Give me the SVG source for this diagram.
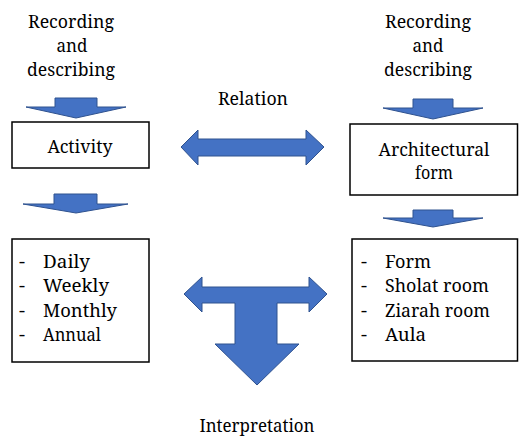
<svg xmlns="http://www.w3.org/2000/svg" width="519" height="438" viewBox="0 0 519 438">
<style>
  text { font-family: "Noto Serif", "DejaVu Serif", serif; font-size: 18.5px; fill: #000; }
  .c { text-anchor: middle; }
  .s { font-size: 17.5px; }
  .box { fill: #fff; stroke: #000; stroke-width: 1.5; }
  .arr { fill: #4472C4; stroke: #2F528F; stroke-width: 1; stroke-linejoin: miter; }
</style>
<rect width="519" height="438" fill="#fff"/>
<g id="label-left-recording">
  <text class="c" x="71" y="28" textLength="86" lengthAdjust="spacingAndGlyphs">Recording</text>
  <text class="c" x="72" y="52" textLength="31" lengthAdjust="spacingAndGlyphs">and</text>
  <text class="c" x="71" y="76" textLength="88" lengthAdjust="spacingAndGlyphs">describing</text>
</g>
<g id="label-right-recording">
  <text class="c" x="428" y="28" textLength="86" lengthAdjust="spacingAndGlyphs">Recording</text>
  <text class="c" x="428" y="52" textLength="31" lengthAdjust="spacingAndGlyphs">and</text>
  <text class="c" x="428" y="76" textLength="88" lengthAdjust="spacingAndGlyphs">describing</text>
</g>
<g id="label-relation">
  <text class="c" x="253" y="105" textLength="70" lengthAdjust="spacingAndGlyphs">Relation</text>
</g>
<g id="node-activity">
  <rect class="box" x="12" y="122" width="137" height="46"/>
  <text class="c" x="80" y="153" textLength="65" lengthAdjust="spacingAndGlyphs">Activity</text>
</g>
<g id="node-architectural-form">
  <rect class="box" x="350" y="124" width="167.5" height="71"/>
  <text class="c s" x="434" y="156" textLength="111" lengthAdjust="spacingAndGlyphs">Architectural</text>
  <text class="c s" x="434" y="179" textLength="38" lengthAdjust="spacingAndGlyphs">form</text>
</g>
<g id="node-activity-list">
  <rect class="box" x="12" y="239" width="137" height="123"/>
  <text x="19" y="268" textLength="6" lengthAdjust="spacingAndGlyphs">-</text><text x="43" y="268" textLength="47" lengthAdjust="spacingAndGlyphs">Daily</text>
  <text x="19" y="292" textLength="6" lengthAdjust="spacingAndGlyphs">-</text><text x="43" y="292" textLength="66" lengthAdjust="spacingAndGlyphs">Weekly</text>
  <text x="19" y="317" textLength="6" lengthAdjust="spacingAndGlyphs">-</text><text x="43" y="317" textLength="74" lengthAdjust="spacingAndGlyphs">Monthly</text>
  <text x="19" y="341" textLength="6" lengthAdjust="spacingAndGlyphs">-</text><text x="43" y="341" textLength="58" lengthAdjust="spacingAndGlyphs">Annual</text>
</g>
<g id="node-form-list">
  <rect class="box" x="352" y="239" width="165.5" height="122"/>
  <text x="361" y="268" textLength="6" lengthAdjust="spacingAndGlyphs">-</text><text x="385" y="268" textLength="46" lengthAdjust="spacingAndGlyphs">Form</text>
  <text x="361" y="292" textLength="6" lengthAdjust="spacingAndGlyphs">-</text><text x="385" y="292" textLength="104" lengthAdjust="spacingAndGlyphs">Sholat room</text>
  <text x="361" y="317" textLength="6" lengthAdjust="spacingAndGlyphs">-</text><text x="385" y="317" textLength="105" lengthAdjust="spacingAndGlyphs">Ziarah room</text>
  <text x="361" y="341" textLength="6" lengthAdjust="spacingAndGlyphs">-</text><text x="385" y="341" textLength="41" lengthAdjust="spacingAndGlyphs">Aula</text>
</g>
<g id="label-interpretation">
  <text class="c" x="257" y="432" textLength="115" lengthAdjust="spacingAndGlyphs">Interpretation</text>
</g>
<g id="connectors">
  <polygon class="arr" points="55,98 97,98 97,107 126,107 76,118 26,107 55,107"/>
  <polygon class="arr" points="413,99 453,99 453,108 483,108 433,119 383,108 413,108"/>
  <polygon class="arr" points="54,194 97,194 97,204 128,204 76,213 23,204 54,204"/>
  <polygon class="arr" points="413,210 453,210 453,218 483,218 433,227 383,218 413,218"/>
  <polygon class="arr" points="181,147 198,130 198,139 306,139 306,130 324,147 306,165 306,156 198,156 198,165"/>
  <polygon class="arr" points="184,294 202,277 202,287 309,287 309,277 327,294 309,312 309,303 277,303 277,344 299,344 257,385 215,344 235,344 235,303 202,303 202,312"/>
</g>
</svg>
